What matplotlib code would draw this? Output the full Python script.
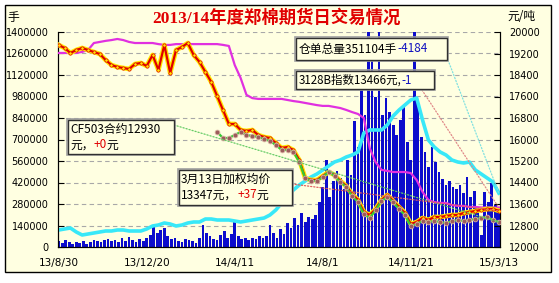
import numpy as np
import matplotlib
matplotlib.use("Agg")
import matplotlib.pyplot as plt
from matplotlib.patches import Rectangle, ConnectionPatch

W, H = 559, 283
CREAM = '#FFFFE1'
CJK = ['Noto Sans CJK SC', 'DejaVu Sans']

# x axis: trading-day index, ticks every 75 days
date_labels = ["13/8/30", "13/12/20", "14/4/11", "14/8/1", "14/11/21", "15/3/13"]
tick_days = [0, 75, 150, 225, 300, 375]
line_days = list(range(0, 376, 5))
bar_days = list(range(0, 376, 3))

# daily volume (手), left axis
volume = [39100, 26000, 45600, 32600, 19500, 32600, 26000, 39100, 19500, 32600,
          45600, 39100, 32600, 45600, 52100, 39100, 45600, 32600, 58600, 39100,
          65100, 45600, 32600, 52100, 39100, 58600, 78100, 136800, 91200, 110700,
          123700, 71600, 52100, 58600, 39100, 32600, 52100, 45600, 39100, 26000,
          58600, 143300, 91200, 71600, 52100, 45600, 78100, 104200, 58600, 84700,
          175800, 71600, 52100, 58600, 45600, 58600, 52100, 71600, 58600, 71600,
          143300, 91200, 58600, 117200, 84700, 156300, 123700, 188800, 143300, 221400,
          162800, 195400, 182300, 208400, 293000, 390700, 566500, 325600, 429800, 494900,
          449300, 377700, 566500, 468900, 820500, 651200, 1054900, 859600, 1450000, 1302400,
          976800, 1450000, 859600, 970300, 879100, 794500, 729300, 827000, 911700, 683800,
          566500, 1400000, 957300, 716300, 618600, 521000, 651200, 553500, 488400, 442800,
          403700, 429800, 390700, 377700, 403700, 351600, 455800, 325600, 364700, 260500,
          78100, 358200, 293000, 416800, 273500, 227900]

# warehouse receipts total (手), left axis
receipts = [110700, 117200, 123700, 97700, 78100, 84700, 91200, 97700, 104200, 104200,
            110700, 110700, 104200, 104200, 104200, 117200, 136800, 143300, 156300, 149800,
            136800, 143300, 156300, 162800, 162800, 182300, 182300, 175800, 175800, 175800,
            169300, 162800, 169300, 175800, 182300, 188800, 208400, 240900, 286500, 332100,
            371200, 403700, 429800, 455800, 475400, 501400, 527500, 553500, 566500, 586100,
            599100, 618600, 742400, 761900, 761900, 761900, 794500, 853100, 892100, 924700,
            957300, 970300, 827000, 696800, 651200, 618600, 599100, 566500, 553500, 547000,
            553500, 501400, 475400, 449300, 423300, 351104]

# 3128B index (元/吨), right axis
index_3128b = [19220, 19220, 19220, 19220, 19260, 19330, 19590, 19630, 19670, 19700,
               19740, 19700, 19630, 19590, 19590, 19590, 19590, 19550, 19520, 19520,
               19550, 19550, 19550, 19550, 19550, 19550, 19550, 19550, 19520, 19480,
               18770, 18290, 17660, 17540, 17510, 17510, 17510, 17510, 17510, 17470,
               17430, 17400, 17360, 17320, 17280, 17250, 17250, 17210, 17170, 17100,
               17020, 16950, 16800, 15680, 15160, 14870, 14830, 14790, 14790, 14790,
               14750, 14490, 14050, 13750, 13670, 13640, 13640, 13560, 13530, 13530,
               13490, 13490, 13470, 13470, 13466, 13466]

# weighted average futures price (元/吨), right axis
wavg_price = [19517, 19405, 19219, 19330, 19405, 19330, 19256, 19182, 18958, 18772,
              18698, 18661, 18623, 18809, 18847, 18735, 19144, 18586, 19517, 18475,
              19330, 19442, 19591, 19144, 18884, 18512, 18140, 17619, 17098, 16577,
              16577, 16354, 16316, 16354, 16168, 16093, 16056, 15870, 15684, 15721,
              15609, 15237, 14567, 14493, 14493, 14642, 14791, 14679, 14456, 14270,
              13972, 13749, 13302, 13191, 13414, 13749, 13935, 13712, 13488, 13265,
              12856, 12930, 13079, 13005, 13116, 13116, 13153, 13191, 13191, 13265,
              13302, 13340, 13377, 13414, 13414, 13347]

# CF503 contract (元/吨), right axis
cf503 = [np.nan] * 27 + [
    16279, 16056, 16056, 16168, 16279, 16168, 16130, 16093, 16019, 15944,
    15796, 15609, 15609, 15535, 15163, 14567, 14456, 14456, 14605, 14791,
    14642, 14419, 14233, 13898, 13674, 13228, 13079, 13377, 13712, 13861,
    13674, 13414, 13191, 12781, 12856, 12967, 12930, 12967, 12930, 12893,
    12967, 13005, 12967, 13005, 13042, 13079, 13116, 13005, 12930]


def fx(px):
    return px / W


def fy(py):
    return 1 - py / H


fig = plt.figure(figsize=(W / 100, H / 100), dpi=100)
fig.patch.set_facecolor('white')
fig.add_artist(Rectangle((fx(5), fy(272)), (551 - 5) / W, (272 - 5) / H,
                         transform=fig.transFigure, facecolor=CREAM,
                         edgecolor='black', lw=1, zorder=-1))

ax = fig.add_axes([fx(57.5), fy(247), (500 - 57.5) / W, (247 - 32) / H])
ax.set_facecolor('none')
ax.bar(bar_days, volume, width=2.3, color='#0C0CCC', linewidth=0, zorder=2)
ax.plot(line_days, receipts, color='#38E8F8', lw=2.6, zorder=3)
ax.set_xlim(-1, 376)
ax.set_ylim(0, 1400000)
lticks = list(range(0, 1400001, 140000))
ax.set_yticks(lticks)
ax.set_yticklabels([str(v) for v in lticks])
ax.set_xticks(tick_days)
ax.set_xticklabels(date_labels)
ax.grid(axis='y', color='#A8A8A8', ls=(0, (4, 3)), lw=0.8)
ax.set_axisbelow(True)
ax.tick_params(axis='y', direction='in', length=4, labelsize=7, pad=6.5)
ax.tick_params(axis='x', length=0, labelsize=7.5, pad=8)
ax.spines['top'].set_visible(False)

ax2 = ax.twinx()
ax2.plot(line_days, index_3128b, color='#E030E0', lw=1.6, zorder=3)
ax2.plot(line_days, wavg_price, color='#FFE800', lw=3.4, zorder=4)
ax2.plot(line_days, wavg_price, color='#E00000', lw=1.6, marker='o', ms=2.4,
         mfc='#FFE800', mec='#E00000', mew=0.5, zorder=5)
ax2.plot(line_days, cf503, color='#33CC33', lw=1.6, marker='o', ms=3.4,
         mfc='#9C5B5B', mec='#D8B0A0', mew=0.6, zorder=6)
ax2.set_ylim(12000, 20000)
rticks = list(range(12000, 20001, 800))
ax2.set_yticks(rticks)
ax2.set_yticklabels([str(v) for v in rticks])
ax2.tick_params(axis='y', direction='in', length=4, labelsize=7, pad=6.5)
ax2.spines['top'].set_visible(False)

fig.text(fx(276), fy(17.5), '2013/14年度郑棉期货日交易情况', ha='center', va='center',
         color='#E00000', fontsize=12.5, fontweight='bold',
         family=['Liberation Serif', 'Noto Sans CJK SC'])
fig.text(fx(13), fy(18), '手', ha='center', va='center', fontsize=8.5, family=CJK)
fig.text(fx(521), fy(16), '元/吨', ha='center', va='center', fontsize=8.5, family=CJK)


def box(x0, y0, x1, y1):
    fig.add_artist(Rectangle((fx(x0 - 1), fy(y1 + 1)), (x1 - x0 + 2) / W, (y1 - y0 + 2) / H,
                             transform=fig.transFigure, facecolor='none',
                             edgecolor='#A0A0A0', lw=1.2, zorder=8))
    fig.add_artist(Rectangle((fx(x0), fy(y1)), (x1 - x0) / W, (y1 - y0) / H,
                             transform=fig.transFigure, facecolor=CREAM,
                             edgecolor='#303030', lw=1, zorder=8))


renderer = fig.canvas.get_renderer()


def rich(x, y, parts, size=8.5):
    for s, c in parts:
        t = fig.text(fx(x), fy(y), s, color=c, fontsize=size, family=CJK,
                     ha='left', va='center', zorder=10)
        x += t.get_window_extent(renderer).width


def leader(px, py, xd, yd, axes, color):
    con = ConnectionPatch(xyA=(fx(px), fy(py)), coordsA='figure fraction',
                          xyB=(xd, yd), coordsB='data', axesB=axes,
                          color=color, lw=0.9, ls=(0, (1, 1.5)), zorder=7)
    fig.add_artist(con)


leader(448, 60, line_days[-1], receipts[-1], ax, '#80E0E0')
leader(422, 90, line_days[-1], index_3128b[-1], ax2, '#E08888')
leader(174, 125, line_days[-1], cf503[-1], ax2, '#66CC66')
leader(292, 184, line_days[-1], wavg_price[-1], ax2, '#E06060')

box(68, 120, 174, 154)
rich(70, 129, [('CF503合约12930', 'black')])
rich(70, 145, [('元，', 'black'), ('+0', '#E00000'), ('元', 'black')])

box(179, 170, 292, 205)
rich(181, 179, [('3月13日加权均价', 'black')])
rich(181, 195, [('13347元，', 'black'), ('+37', '#E00000'), ('元', 'black')])

box(296, 38, 447, 60)
rich(299, 49, [('仓单总量351104手', 'black'), ('-4184', '#1010C0')])

box(296, 71, 434, 89)
rich(299, 80, [('3128B指数13466元,', 'black'), ('-1', '#1010C0')], size=8.3)

fig.savefig('out.png', dpi=100, facecolor=fig.get_facecolor())
